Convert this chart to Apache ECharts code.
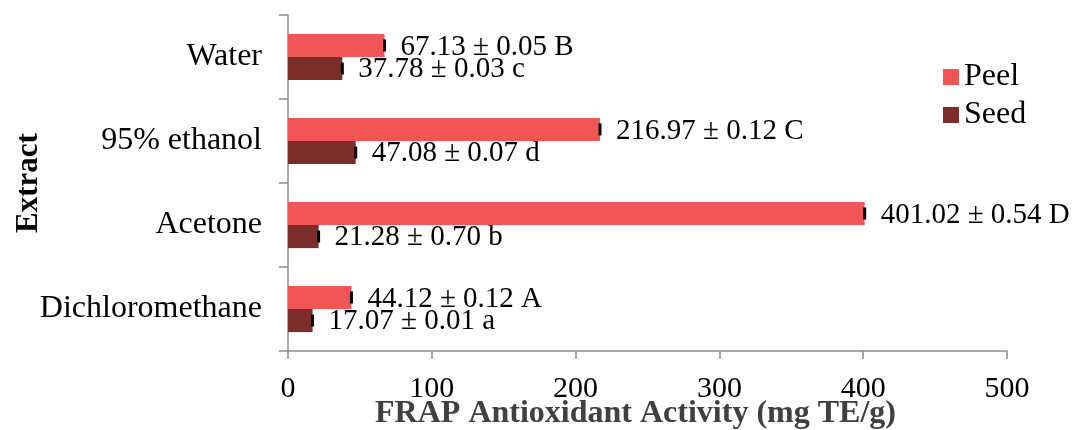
<!DOCTYPE html>
<html>
<head>
<meta charset="utf-8">
<script src="https://cdn.jsdelivr.net/npm/echarts@6/dist/echarts.min.js"></script>
<style>
html,body{margin:0;padding:0;background:#fff;}
#chart{width:1073px;height:430px;}
</style>
</head>
<body>
<div id="chart"></div>
<script>
// Data (categories bottom to top)
var categories = ['Dichloromethane', 'Acetone', '95% ethanol', 'Water'];
var peelValues = [44.12, 401.02, 216.97, 67.13];
var peelErrors = [0.12, 0.54, 0.12, 0.05];
var peelLetters = ['A', 'D', 'C', 'B'];
var seedValues = [17.07, 21.28, 47.08, 37.78];
var seedErrors = [0.01, 0.70, 0.07, 0.03];
var seedLetters = ['a', 'b', 'd', 'c'];
var xTicks = [0, 100, 200, 300, 400, 500];

var serif = '"Liberation Serif", "Times New Roman", serif';
var peelColor = '#F15555';
var seedColor = '#7A2D29';

function fmt(v){ return v.toFixed(2); }

function labelFor(values, errors, letters){
  return function(p){
    var i = p.dataIndex;
    return fmt(values[i]) + ' \u00B1 ' + fmt(errors[i]) + ' ' + letters[i];
  };
}

var CAT_GAP = 0.45;
function errRender(values, errors, side){
  // side: -1 -> upper bar (Peel), +1 -> lower bar (Seed)
  return function(params, api){
    var i = api.value(2);
    var v = values[i], e = errors[i];
    var band = api.size([0, 1])[1];
    var barW = band * (1 - CAT_GAP) / 2;
    var c = api.coord([v, i]);
    var lo = api.coord([v - e, i])[0];
    var hi = api.coord([v + e, i])[0];
    var cy = c[1] + side * barW / 2;
    var w = Math.max(3, hi - lo);
    var h = barW * 0.52;
    return {
      type: 'rect',
      shape: { x: (lo + hi) / 2 - w / 2, y: cy - h / 2, width: w, height: h },
      style: { fill: '#000' }
    };
  };
}

function errData(values){
  return values.map(function(v, i){ return [v, categories[i], i]; });
}

var chart = echarts.init(document.getElementById('chart'), null, {renderer: 'canvas'});
chart.setOption({
  animation: false,
  backgroundColor: '#fff',
  grid: { left: 288, right: 66, top: 15, bottom: 79, containLabel: false, outerBoundsMode: 'none' },
  legend: {
    data: ['Peel', 'Seed'],
    orient: 'vertical',
    left: 938,
    top: 56,
    itemWidth: 16,
    itemHeight: 16,
    itemGap: 6,
    icon: 'rect',
    textStyle: { fontFamily: serif, fontSize: 32, color: '#000', padding: [0, 0, 0, 0] }
  },
  xAxis: {
    type: 'value',
    min: 0, max: 500, interval: 100,
    name: 'FRAP Antioxidant Activity (mg TE/g)',
    nameLocation: 'middle',
    nameGap: 47,
    nameMoveOverlap: false,
    nameTextStyle: { fontFamily: serif, fontSize: 32, fontWeight: 'bold', color: '#404040', padding: [0, 24, 0, 0] },
    axisLine: { show: true, lineStyle: { color: '#8c8c8c', width: 1.5 } },
    axisTick: { show: true, length: 8, lineStyle: { color: '#8c8c8c', width: 1.5 } },
    axisLabel: {
      fontFamily: serif, fontSize: 30, color: '#000', margin: 23,
      formatter: function(v){ return xTicks.indexOf(v) >= 0 ? String(v) : ''; }
    },
    splitLine: { show: false }
  },
  yAxis: {
    type: 'category',
    data: categories,
    name: 'Extract',
    nameLocation: 'middle',
    nameGap: 244,
    nameMoveOverlap: false,
    nameRotate: 90,
    nameTextStyle: { fontFamily: serif, fontSize: 31, fontWeight: 'bold', color: '#000' },
    axisLine: { show: true, lineStyle: { color: '#8c8c8c', width: 1.5 } },
    axisTick: { show: true, length: 9, lineStyle: { color: '#8c8c8c', width: 1.5 } },
    axisLabel: { fontFamily: serif, fontSize: 32, color: '#000', margin: 26 }
  },
  series: [
    {
      name: 'Peel', type: 'bar', data: peelValues,
      barGap: '0%', barCategoryGap: '45%',
      itemStyle: { color: peelColor },
      label: { show: true, position: 'right', distance: 16, offset: [0, 2], fontFamily: serif, fontSize: 29, color: '#000',
               formatter: labelFor(peelValues, peelErrors, peelLetters) }
    },
    {
      name: 'Seed', type: 'bar', data: seedValues,
      barGap: '0%', barCategoryGap: '45%',
      itemStyle: { color: seedColor },
      label: { show: true, position: 'right', distance: 16, offset: [0, 1], fontFamily: serif, fontSize: 29, color: '#000',
               formatter: labelFor(seedValues, seedErrors, seedLetters) }
    },
    {
      name: 'PeelErr', type: 'custom', data: errData(peelValues),
      encode: { x: 0, y: 1 }, z: 5, silent: true,
      renderItem: errRender(peelValues, peelErrors, -1)
    },
    {
      name: 'SeedErr', type: 'custom', data: errData(seedValues),
      encode: { x: 0, y: 1 }, z: 5, silent: true,
      renderItem: errRender(seedValues, seedErrors, 1)
    }
  ]
});
</script>
</body>
</html>
